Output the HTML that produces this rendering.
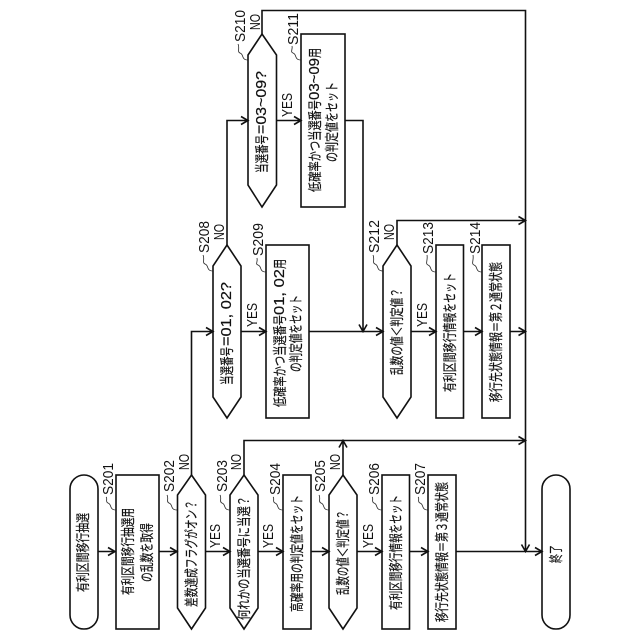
<!DOCTYPE html>
<html><head><meta charset="utf-8"><style>
html,body{margin:0;padding:0;background:#fff}
svg{display:block}
.s{fill:none;stroke:#111;stroke-width:1.6}
.l{fill:none;stroke:#222;stroke-width:0.8}
text{fill:#111;font-family:"Liberation Sans","Noto Sans CJK JP",sans-serif}
.b{font-size:14px;dominant-baseline:central;stroke:#111;stroke-width:0.2}
.d{font-size:14.500px}
.t{font-size:15px}
</style></head><body>
<svg width="640" height="640" viewBox="0 0 640 640" xmlns="http://www.w3.org/2000/svg">
<g class="s">
<rect x="70" y="475" width="28" height="154" rx="14"/>
<rect x="116" y="475" width="43" height="154"/>
<path d="M191.5 475L205.5 495V608L191.5 629L177.5 608V495Z"/>
<path d="M244 475L258 495V608L244 629L230 608V495Z"/>
<rect x="283" y="475" width="28" height="154"/>
<path d="M343 475L357 495V608L343 629L329 608V495Z"/>
<rect x="382" y="475" width="27.500" height="154"/>
<rect x="428" y="475" width="28" height="154"/>
<rect x="542" y="475" width="28" height="154" rx="14"/>
<path d="M227 245L241 266V397L227 418L213 397V266Z"/>
<rect x="266" y="245" width="43" height="173"/>
<path d="M397 245L411 266V397L397 418L383 397V266Z"/>
<rect x="436" y="245" width="27.500" height="173"/>
<rect x="482" y="245" width="28" height="173"/>
<path d="M262 34L276.500 55V185L262 207L248 185V55Z"/>
<rect x="301" y="34" width="44" height="173"/>

<path d="M98 551.500H115M159 551.500H177M205.500 551.500H230M258 551.500H283M311 551.500H329M357 551.500H382M409.500 551.500H428M456 551.500H542"/>
<path d="M108 547.500L115 551.500L108 555.500M170 547.500L177 551.500L170 555.500M223 547.500L230 551.500L223 555.500M276 547.500L283 551.500L276 555.500M322 547.500L329 551.500L322 555.500M375 547.500L382 551.500L375 555.500M421 547.500L428 551.500L421 555.500M535 547.500L542 551.500L535 555.500"/>
<path d="M191.500 475V331.500H213M206 327.500L213 331.500L206 335.500"/>
<path d="M241 331.500H266M259 327.500L266 331.500L259 335.500"/>
<path d="M309 331.500H383M376 327.500L383 331.500L376 335.500"/>
<path d="M411 331.500H436M429 327.500L436 331.500L429 335.500"/>
<path d="M463.500 331.500H482M475 327.500L482 331.500L475 335.500"/>
<path d="M510 331.500H525.500M518.500 327.500L525.500 331.500L518.500 335.500"/>
<path d="M227 245V120.500H248M241 116.500L248 120.500L241 124.500"/>
<path d="M276.500 120.500H301M294 116.500L301 120.500L294 124.500"/>
<path d="M345 120.500H363V331.500M359 324.500L363 331.500L367 324.500"/>
<path d="M262 34V10.500H525.500V551.500M521.500 544.500L525.500 551.500L529.500 544.500"/>
<path d="M397 245V220.500H525.500M518.500 216.500L525.500 220.500L518.500 224.500"/>
<path d="M244 475V440.500H525.500M518.500 436.500L525.500 440.500L518.500 444.500"/>
<path d="M343 475V440.500M339 447.500L343 440.500L347 447.500"/>
</g>
<g class="l">
<path d="M116 510C109 510 112 504 108 503C105 502 108 498 106 497"/>
<path d="M177 510C170 510 173 504 169 503C166 502 169 498 167 495"/>
<path d="M230 510C223 510 226 504 222 503C219 502 222 498 220 495"/>
<path d="M283 510C276 510 279 504 275 503C272 502 275 498 273 497"/>
<path d="M329 510C322 510 325 504 321 503C318 502 321 498 319 495"/>
<path d="M382 510C375 510 378 504 374 503C371 502 374 498 372 497"/>
<path d="M428 510C421 510 424 504 420 503C417 502 420 498 418 497"/>
<path d="M213 271C206 271 209 265 205 264C202 263 205 259 203 255"/>
<path d="M266 272C259 272 262 266 258 265C255 264 258 262 257 258"/>
<path d="M383 271C376 271 379 265 375 264C372 263 375 259 373 255"/>
<path d="M436 272C429 272 432 266 428 265C425 264 428 260 427 255"/>
<path d="M482 272C475 272 478 266 474 265C471 264 474 260 473 255"/>
<path d="M248 60C241 60 244 54 240 53C237 52 240 48 238 44"/>
<path d="M301 60C294 60 297 54 293 53C290 52 293 49 292 46"/>
</g>

<text class="b" transform="translate(83,592) rotate(-90)" textLength="79" lengthAdjust="spacingAndGlyphs">有利区間移行抽選</text>
<text class="b" transform="translate(128,595) rotate(-90)" textLength="87" lengthAdjust="spacingAndGlyphs">有利区間移行抽選用</text>
<text class="b" transform="translate(147,582) rotate(-90)" textLength="59" lengthAdjust="spacingAndGlyphs">の乱数を取得</text>
<text class="b" transform="translate(191.500,607) rotate(-90)" textLength="107" lengthAdjust="spacingAndGlyphs">差数達成フラグがオン&#xFF1F;</text>
<text class="b" transform="translate(244,620) rotate(-90)" textLength="124" lengthAdjust="spacingAndGlyphs">何れかの当選番号に当選&#xFF1F;</text>
<text class="b" transform="translate(297,612) rotate(-90)" textLength="117" lengthAdjust="spacingAndGlyphs">高確率用の判定値をセット</text>
<text class="b" transform="translate(343,595) rotate(-90)" textLength="85" lengthAdjust="spacingAndGlyphs">乱数の値&#xFF1C;判定値&#xFF1F;</text>
<text class="b" transform="translate(396,610) rotate(-90)" textLength="115" lengthAdjust="spacingAndGlyphs">有利区間移行情報をセット</text>
<text class="b" transform="translate(442,622) rotate(-90)" textLength="140" lengthAdjust="spacingAndGlyphs">移行先状態情報&#xFF1D;第&#xFF13;通常状態</text>
<text class="b" transform="translate(556,563) rotate(-90)" textLength="18" lengthAdjust="spacingAndGlyphs">終了</text>

<text class="b" transform="translate(227,385) rotate(-90)" textLength="38" lengthAdjust="spacingAndGlyphs">当選番号</text>
<text class="b d" transform="translate(227,346) rotate(-90)" textLength="64" lengthAdjust="spacingAndGlyphs">=01, 02?</text>
<text class="b" transform="translate(280,407) rotate(-90)" textLength="92" lengthAdjust="spacingAndGlyphs">低確率かつ当選番号</text>
<text class="b d" transform="translate(280,315) rotate(-90)" textLength="46" lengthAdjust="spacingAndGlyphs">01, 02</text>
<text class="b" transform="translate(280,269) rotate(-90)" textLength="10" lengthAdjust="spacingAndGlyphs">用</text>
<text class="b" transform="translate(296,372) rotate(-90)" textLength="77" lengthAdjust="spacingAndGlyphs">の判定値をセット</text>
<text class="b" transform="translate(397,375) rotate(-90)" textLength="87" lengthAdjust="spacingAndGlyphs">乱数の値&#xFF1C;判定値&#xFF1F;</text>
<text class="b" transform="translate(450,392) rotate(-90)" textLength="119" lengthAdjust="spacingAndGlyphs">有利区間移行情報をセット</text>
<text class="b" transform="translate(496,402) rotate(-90)" textLength="140" lengthAdjust="spacingAndGlyphs">移行先状態情報&#xFF1D;第&#xFF12;通常状態</text>
<text class="b" transform="translate(262,173) rotate(-90)" textLength="38" lengthAdjust="spacingAndGlyphs">当選番号</text>
<text class="b d" transform="translate(262,134) rotate(-90)" textLength="63" lengthAdjust="spacingAndGlyphs">=03~09?</text>
<text class="b" transform="translate(315,192) rotate(-90)" textLength="92" lengthAdjust="spacingAndGlyphs">低確率かつ当選番号</text>
<text class="b d" transform="translate(315,100) rotate(-90)" textLength="42" lengthAdjust="spacingAndGlyphs">03~09</text>
<text class="b" transform="translate(315,58) rotate(-90)" textLength="10" lengthAdjust="spacingAndGlyphs">用</text>
<text class="b" transform="translate(332,162) rotate(-90)" textLength="80" lengthAdjust="spacingAndGlyphs">の判定値をセット</text>

<text class="t" transform="translate(113,495) rotate(-90)" textLength="32" lengthAdjust="spacingAndGlyphs">S201</text>
<text class="t" transform="translate(174,492) rotate(-90)" textLength="32" lengthAdjust="spacingAndGlyphs">S202</text>
<text class="t" transform="translate(227,492) rotate(-90)" textLength="32" lengthAdjust="spacingAndGlyphs">S203</text>
<text class="t" transform="translate(280,495) rotate(-90)" textLength="32" lengthAdjust="spacingAndGlyphs">S204</text>
<text class="t" transform="translate(325,492) rotate(-90)" textLength="32" lengthAdjust="spacingAndGlyphs">S205</text>
<text class="t" transform="translate(379,495) rotate(-90)" textLength="32" lengthAdjust="spacingAndGlyphs">S206</text>
<text class="t" transform="translate(425,495) rotate(-90)" textLength="32" lengthAdjust="spacingAndGlyphs">S207</text>
<text class="t" transform="translate(209,253) rotate(-90)" textLength="32" lengthAdjust="spacingAndGlyphs">S208</text>
<text class="t" transform="translate(263,256) rotate(-90)" textLength="33" lengthAdjust="spacingAndGlyphs">S209</text>
<text class="t" transform="translate(379,253) rotate(-90)" textLength="33" lengthAdjust="spacingAndGlyphs">S212</text>
<text class="t" transform="translate(433,254) rotate(-90)" textLength="32" lengthAdjust="spacingAndGlyphs">S213</text>
<text class="t" transform="translate(480,254) rotate(-90)" textLength="32" lengthAdjust="spacingAndGlyphs">S214</text>
<text class="t" transform="translate(245,42) rotate(-90)" textLength="32" lengthAdjust="spacingAndGlyphs">S210</text>
<text class="t" transform="translate(298,45) rotate(-90)" textLength="32" lengthAdjust="spacingAndGlyphs">S211</text>

<text class="t" transform="translate(189,470) rotate(-90)" textLength="16" lengthAdjust="spacingAndGlyphs">NO</text>
<text class="t" transform="translate(241,470) rotate(-90)" textLength="16" lengthAdjust="spacingAndGlyphs">NO</text>
<text class="t" transform="translate(340,470) rotate(-90)" textLength="16" lengthAdjust="spacingAndGlyphs">NO</text>
<text class="t" transform="translate(224,240) rotate(-90)" textLength="16" lengthAdjust="spacingAndGlyphs">NO</text>
<text class="t" transform="translate(394,240) rotate(-90)" textLength="16" lengthAdjust="spacingAndGlyphs">NO</text>
<text class="t" transform="translate(260,30) rotate(-90)" textLength="16" lengthAdjust="spacingAndGlyphs">NO</text>

<text class="t" transform="translate(220,548) rotate(-90)" textLength="24" lengthAdjust="spacingAndGlyphs">YES</text>
<text class="t" transform="translate(273,548) rotate(-90)" textLength="24" lengthAdjust="spacingAndGlyphs">YES</text>
<text class="t" transform="translate(373,548) rotate(-90)" textLength="24" lengthAdjust="spacingAndGlyphs">YES</text>
<text class="t" transform="translate(257,327) rotate(-90)" textLength="24" lengthAdjust="spacingAndGlyphs">YES</text>
<text class="t" transform="translate(427,327) rotate(-90)" textLength="24" lengthAdjust="spacingAndGlyphs">YES</text>
<text class="t" transform="translate(292,117) rotate(-90)" textLength="24" lengthAdjust="spacingAndGlyphs">YES</text>
</svg>
</body></html>
